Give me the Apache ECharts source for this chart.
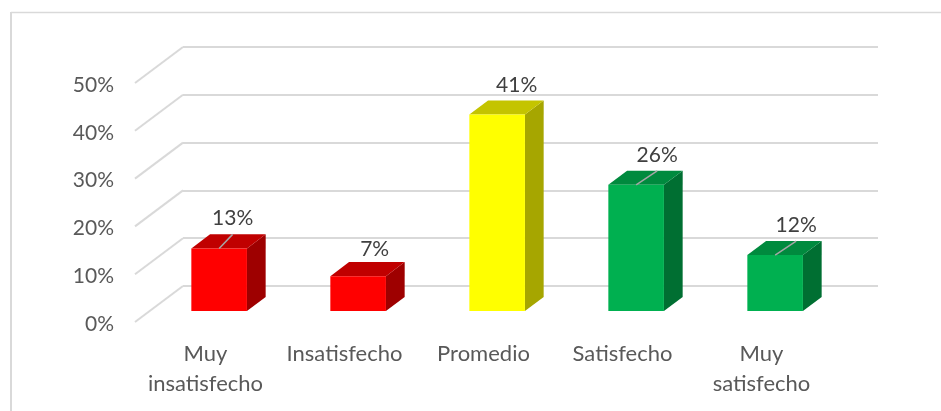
<!DOCTYPE html>
<html>
<head>
<meta charset="utf-8">
<style>html,body{margin:0;padding:0;background:#fff}#c{width:941px;height:411px}</style>
<script src="https://cdn.jsdelivr.net/npm/echarts@6/dist/echarts.min.js"></script>
</head>
<body>
<div id="c"></div>
<script>
const categories = ['Muy\ninsatisfecho', 'Insatisfecho', 'Promedio', 'Satisfecho', 'Muy\nsatisfecho'];
const values = [13.1, 7.3, 41.1, 26.4, 11.7];
const tickValues = [0, 10, 20, 30, 40, 50];
const faceColors = ['#FF0000', '#FF0000', '#FFFF00', '#00B050', '#00B050'];
const topColors = ['#C00000', '#C00000', '#C4C400', '#008A3E', '#008A3E'];
const sideColors = ['#9E0000', '#9E0000', '#A6A600', '#006F32', '#006F32'];
const hasLeader = [true, false, false, true, true];
const labelNudge = [[13.5, -30], [16.5, -26.5], [19.5, -29], [21, -30], [21, -30]];

// Oblique projection of the floor: how far the back wall is from the front plane.
const DEPTH_X = 48, DEPTH_Y = -36;
const BAR_NEAR = 0.305, BAR_FAR = 0.695;
const GRID_COLOR = '#D9D9D9';
const FONT = 'Lato';
const FONT_SIZE = 21;
const CATEGORY_FONT_SIZE = 22;

function project(p, t) { return [p[0] + DEPTH_X * t, p[1] + DEPTH_Y * t]; }
function polygon(points, fill) {
  return { type: 'polygon', shape: { points }, style: { fill, stroke: null } };
}

function renderBar(params, api) {
  const i = api.value(0), v = api.value(1);
  const half = api.size([1, 0])[0] * 0.2;
  const base = api.coord([i, 0]), top = api.coord([i, v]);
  const corner = (x, y, t) => project([x, y], t);
  const l = base[0] - half, r = base[0] + half;
  const fbl = corner(l, base[1], BAR_NEAR), fbr = corner(r, base[1], BAR_NEAR);
  const ftl = corner(l, top[1], BAR_NEAR), ftr = corner(r, top[1], BAR_NEAR);
  const bbr = corner(r, base[1], BAR_FAR), btl = corner(l, top[1], BAR_FAR), btr = corner(r, top[1], BAR_FAR);
  const children = [
    polygon([ftr, btr, bbr, fbr], sideColors[i]),
    polygon([ftl, btl, btr, ftr], topColors[i]),
    polygon([ftl, ftr, fbr, fbl], faceColors[i])
  ];
  const cx = (ftl[0] + ftr[0]) / 2, cy = ftl[1];
  const [nx, ny] = labelNudge[i];
  if (hasLeader[i]) {
    children.push({ type: 'line', shape: { x1: cx, y1: cy, x2: cx + nx, y2: btl[1] },
      style: { stroke: '#A6A6A6', lineWidth: 1.5 } });
  }
  children.push({ type: 'text', style: {
    x: cx + nx, y: cy + ny, text: Math.round(v) + '%', align: 'center', verticalAlign: 'middle',
    font: FONT_SIZE + 'px "' + FONT + '"', fill: '#404040' } });
  return { type: 'group', children };
}

function renderDiagonal(params, api) {
  const p = api.coord([0, api.value(0)]);
  const leftEdge = params.coordSys.x;
  const a = [leftEdge, p[1]], b = project(a, 1);
  return { type: 'line', shape: { x1: a[0], y1: a[1], x2: b[0], y2: b[1] },
    style: { stroke: GRID_COLOR, lineWidth: 2 } };
}

const hiddenAxis = { axisLine: { show: false }, axisTick: { show: false }, axisLabel: { show: false }, splitLine: { show: false } };

const chart = echarts.init(document.getElementById('c'), null, { renderer: 'canvas' });
chart.setOption({
  animation: false,
  backgroundColor: '#fff',
  graphic: [
    { type: 'line', silent: true, z: -1, shape: { x1: 11, y1: 12.5, x2: 941, y2: 12.5 },
      style: { stroke: GRID_COLOR, lineWidth: 1.5 } },
    { type: 'line', silent: true, z: -1, shape: { x1: 11, y1: 12, x2: 11, y2: 411 },
      style: { stroke: GRID_COLOR, lineWidth: 2 } }
  ],
  grid: [
    { left: 135, width: 695, top: 83, height: 239 },   // front plane: marks
    { left: 183, width: 695, top: 47, height: 239 },   // back wall: gridlines
    { left: 136, width: 695, top: 85, height: 239 }    // axis text
  ],
  xAxis: [
    Object.assign({ type: 'category', gridIndex: 0, data: categories }, hiddenAxis),
    { type: 'category', gridIndex: 1, data: categories, show: false },
    { type: 'category', gridIndex: 2, data: categories,
      axisLine: { show: false }, axisTick: { show: false }, splitLine: { show: false },
      axisLabel: { color: '#595959', fontFamily: FONT, fontSize: CATEGORY_FONT_SIZE, margin: 15, lineHeight: 30, interval: 0 } }
  ],
  yAxis: [
    Object.assign({ type: 'value', gridIndex: 0, min: 0, max: 50, interval: 10 }, hiddenAxis),
    { type: 'value', gridIndex: 1, min: 0, max: 50, interval: 10,
      axisLine: { show: false }, axisTick: { show: false }, axisLabel: { show: false },
      splitLine: { show: true, lineStyle: { color: GRID_COLOR, width: 2 } } },
    { type: 'value', gridIndex: 2, min: 0, max: 50, interval: 10,
      axisLine: { show: false }, axisTick: { show: false }, splitLine: { show: false },
      axisLabel: { color: '#595959', fontFamily: FONT, fontSize: FONT_SIZE, margin: 22, formatter: '{value}%' } }
  ],
  series: [
    { type: 'custom', xAxisIndex: 0, yAxisIndex: 0, z: 1, silent: true,
      data: tickValues.map(t => [t]), encode: { y: 0 }, renderItem: renderDiagonal },
    { type: 'custom', xAxisIndex: 0, yAxisIndex: 0, z: 5, silent: true,
      data: values.map((v, i) => [i, v]), encode: { x: 0, y: 1 }, renderItem: renderBar }
  ]
});
</script>
</body>
</html>
